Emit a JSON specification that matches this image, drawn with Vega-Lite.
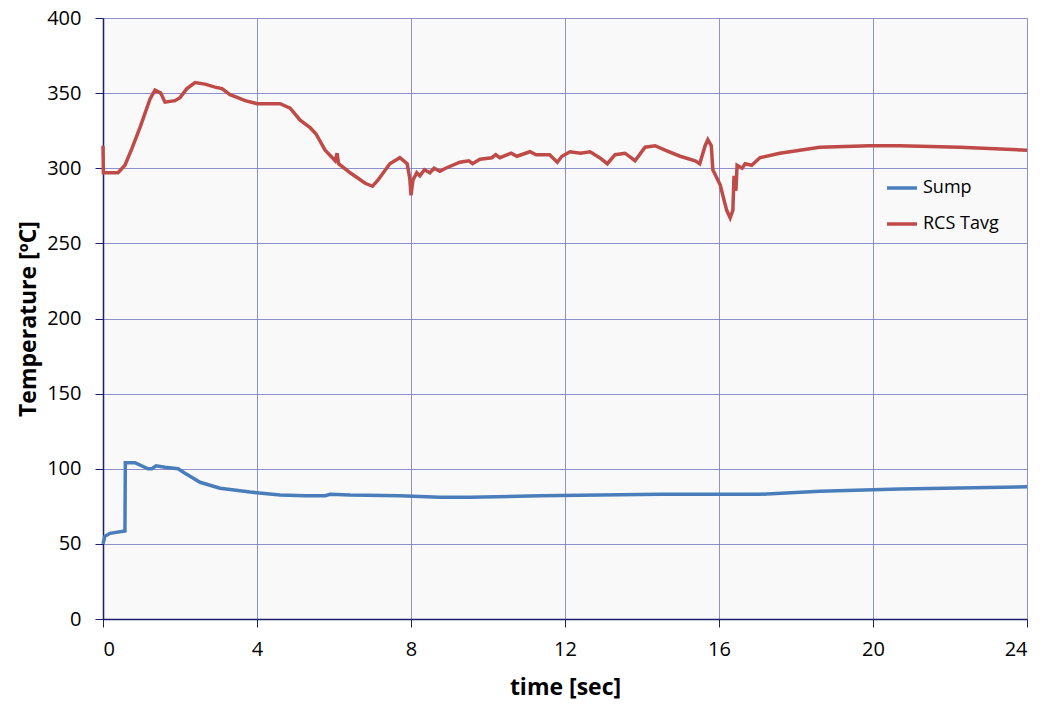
{
  "$schema": "https://vega.github.io/schema/vega-lite/v6.json",
  "width": 924,
  "height": 601,
  "autosize": {"type": "none"},
  "padding": {"left": 103, "top": 18, "right": 18, "bottom": 89},
  "background": "white",
  "config": {
    "view": {"fill": "#f9f9f9", "stroke": null},
    "axis": {
      "labelFont": "Open Sans",
      "labelFontSize": 20,
      "labelColor": "#000000",
      "titleFont": "Open Sans",
      "titleFontSize": 23,
      "titleFontWeight": "bold",
      "titleColor": "#000000",
      "gridColor": "#7c7cc4",
      "gridOpacity": 0.85,
      "gridWidth": 1,
      "tickColor": "#1f1f6f",
      "tickSize": 8,
      "domainColor": "#1f1f6f",
      "domainWidth": 1.5
    }
  },
  "datasets": {
    "curves": [
      {"t": 0.0, "T": 315, "s": "RCS Tavg"},
      {"t": 0.01, "T": 297, "s": "RCS Tavg"},
      {"t": 0.39, "T": 297, "s": "RCS Tavg"},
      {"t": 0.57, "T": 302, "s": "RCS Tavg"},
      {"t": 0.75, "T": 313, "s": "RCS Tavg"},
      {"t": 0.96, "T": 327, "s": "RCS Tavg"},
      {"t": 1.22, "T": 346, "s": "RCS Tavg"},
      {"t": 1.35, "T": 352, "s": "RCS Tavg"},
      {"t": 1.5, "T": 350, "s": "RCS Tavg"},
      {"t": 1.61, "T": 344, "s": "RCS Tavg"},
      {"t": 1.87, "T": 345, "s": "RCS Tavg"},
      {"t": 2.0, "T": 347, "s": "RCS Tavg"},
      {"t": 2.18, "T": 353, "s": "RCS Tavg"},
      {"t": 2.39, "T": 357, "s": "RCS Tavg"},
      {"t": 2.65, "T": 356, "s": "RCS Tavg"},
      {"t": 2.91, "T": 354, "s": "RCS Tavg"},
      {"t": 3.09, "T": 353, "s": "RCS Tavg"},
      {"t": 3.3, "T": 349, "s": "RCS Tavg"},
      {"t": 3.5, "T": 347, "s": "RCS Tavg"},
      {"t": 3.69, "T": 345, "s": "RCS Tavg"},
      {"t": 4.0, "T": 343, "s": "RCS Tavg"},
      {"t": 4.6, "T": 343, "s": "RCS Tavg"},
      {"t": 4.86, "T": 340, "s": "RCS Tavg"},
      {"t": 5.12, "T": 332, "s": "RCS Tavg"},
      {"t": 5.38, "T": 327, "s": "RCS Tavg"},
      {"t": 5.53, "T": 323, "s": "RCS Tavg"},
      {"t": 5.77, "T": 312, "s": "RCS Tavg"},
      {"t": 6.03, "T": 305, "s": "RCS Tavg"},
      {"t": 6.08, "T": 310, "s": "RCS Tavg"},
      {"t": 6.12, "T": 303, "s": "RCS Tavg"},
      {"t": 6.42, "T": 297, "s": "RCS Tavg"},
      {"t": 6.81, "T": 290, "s": "RCS Tavg"},
      {"t": 7.0, "T": 288, "s": "RCS Tavg"},
      {"t": 7.14, "T": 292, "s": "RCS Tavg"},
      {"t": 7.45, "T": 303, "s": "RCS Tavg"},
      {"t": 7.71, "T": 307, "s": "RCS Tavg"},
      {"t": 7.9, "T": 303, "s": "RCS Tavg"},
      {"t": 7.97, "T": 293, "s": "RCS Tavg"},
      {"t": 8.0, "T": 282, "s": "RCS Tavg"},
      {"t": 8.05, "T": 292, "s": "RCS Tavg"},
      {"t": 8.15, "T": 297, "s": "RCS Tavg"},
      {"t": 8.23, "T": 295, "s": "RCS Tavg"},
      {"t": 8.35, "T": 299, "s": "RCS Tavg"},
      {"t": 8.49, "T": 297, "s": "RCS Tavg"},
      {"t": 8.6, "T": 300, "s": "RCS Tavg"},
      {"t": 8.75, "T": 298, "s": "RCS Tavg"},
      {"t": 8.9, "T": 300, "s": "RCS Tavg"},
      {"t": 9.27, "T": 304, "s": "RCS Tavg"},
      {"t": 9.5, "T": 305, "s": "RCS Tavg"},
      {"t": 9.6, "T": 303, "s": "RCS Tavg"},
      {"t": 9.79, "T": 306, "s": "RCS Tavg"},
      {"t": 10.1, "T": 307, "s": "RCS Tavg"},
      {"t": 10.2, "T": 309, "s": "RCS Tavg"},
      {"t": 10.31, "T": 307, "s": "RCS Tavg"},
      {"t": 10.6, "T": 310, "s": "RCS Tavg"},
      {"t": 10.75, "T": 308, "s": "RCS Tavg"},
      {"t": 11.09, "T": 311, "s": "RCS Tavg"},
      {"t": 11.25, "T": 309, "s": "RCS Tavg"},
      {"t": 11.6, "T": 309, "s": "RCS Tavg"},
      {"t": 11.8, "T": 304, "s": "RCS Tavg"},
      {"t": 11.92, "T": 308, "s": "RCS Tavg"},
      {"t": 12.13, "T": 311, "s": "RCS Tavg"},
      {"t": 12.4, "T": 310, "s": "RCS Tavg"},
      {"t": 12.65, "T": 311, "s": "RCS Tavg"},
      {"t": 12.9, "T": 307, "s": "RCS Tavg"},
      {"t": 13.1, "T": 303, "s": "RCS Tavg"},
      {"t": 13.3, "T": 309, "s": "RCS Tavg"},
      {"t": 13.56, "T": 310, "s": "RCS Tavg"},
      {"t": 13.82, "T": 305, "s": "RCS Tavg"},
      {"t": 14.08, "T": 314, "s": "RCS Tavg"},
      {"t": 14.34, "T": 315, "s": "RCS Tavg"},
      {"t": 14.6, "T": 312, "s": "RCS Tavg"},
      {"t": 14.99, "T": 308, "s": "RCS Tavg"},
      {"t": 15.38, "T": 305, "s": "RCS Tavg"},
      {"t": 15.5, "T": 303, "s": "RCS Tavg"},
      {"t": 15.64, "T": 315, "s": "RCS Tavg"},
      {"t": 15.71, "T": 319, "s": "RCS Tavg"},
      {"t": 15.8, "T": 315, "s": "RCS Tavg"},
      {"t": 15.84, "T": 299, "s": "RCS Tavg"},
      {"t": 16.03, "T": 289, "s": "RCS Tavg"},
      {"t": 16.2, "T": 272, "s": "RCS Tavg"},
      {"t": 16.29, "T": 267, "s": "RCS Tavg"},
      {"t": 16.36, "T": 272, "s": "RCS Tavg"},
      {"t": 16.39, "T": 295, "s": "RCS Tavg"},
      {"t": 16.44, "T": 285, "s": "RCS Tavg"},
      {"t": 16.47, "T": 302, "s": "RCS Tavg"},
      {"t": 16.6, "T": 300, "s": "RCS Tavg"},
      {"t": 16.68, "T": 303, "s": "RCS Tavg"},
      {"t": 16.85, "T": 302, "s": "RCS Tavg"},
      {"t": 17.06, "T": 307, "s": "RCS Tavg"},
      {"t": 17.58, "T": 310, "s": "RCS Tavg"},
      {"t": 18.62, "T": 314, "s": "RCS Tavg"},
      {"t": 19.92, "T": 315, "s": "RCS Tavg"},
      {"t": 20.7, "T": 315, "s": "RCS Tavg"},
      {"t": 22.26, "T": 314, "s": "RCS Tavg"},
      {"t": 24.0, "T": 312, "s": "RCS Tavg"},
      {"t": 0.0, "T": 50, "s": "Sump"},
      {"t": 0.05, "T": 55, "s": "Sump"},
      {"t": 0.18, "T": 57, "s": "Sump"},
      {"t": 0.57, "T": 58.6, "s": "Sump"},
      {"t": 0.58, "T": 104, "s": "Sump"},
      {"t": 0.83, "T": 104, "s": "Sump"},
      {"t": 1.17, "T": 100, "s": "Sump"},
      {"t": 1.27, "T": 100, "s": "Sump"},
      {"t": 1.38, "T": 102, "s": "Sump"},
      {"t": 1.61, "T": 101, "s": "Sump"},
      {"t": 1.95, "T": 100, "s": "Sump"},
      {"t": 2.13, "T": 97, "s": "Sump"},
      {"t": 2.52, "T": 91, "s": "Sump"},
      {"t": 3.04, "T": 87, "s": "Sump"},
      {"t": 3.82, "T": 84.5, "s": "Sump"},
      {"t": 4.6, "T": 82.5, "s": "Sump"},
      {"t": 5.25, "T": 82, "s": "Sump"},
      {"t": 5.77, "T": 82, "s": "Sump"},
      {"t": 5.9, "T": 83, "s": "Sump"},
      {"t": 6.42, "T": 82.5, "s": "Sump"},
      {"t": 7.71, "T": 82, "s": "Sump"},
      {"t": 8.75, "T": 81, "s": "Sump"},
      {"t": 9.53, "T": 81, "s": "Sump"},
      {"t": 11.35, "T": 82, "s": "Sump"},
      {"t": 14.47, "T": 83, "s": "Sump"},
      {"t": 17.06, "T": 83, "s": "Sump"},
      {"t": 18.62, "T": 85, "s": "Sump"},
      {"t": 20.7, "T": 86.5, "s": "Sump"},
      {"t": 24.0, "T": 88, "s": "Sump"}
    ]
  },
  "data": {"name": "curves"},
  "mark": {"type": "line", "strokeWidth": 3.5, "interpolate": "linear"},
  "encoding": {
    "x": {
      "field": "t",
      "type": "quantitative",
      "scale": {"domain": [0, 24], "nice": false},
      "axis": {
        "values": [0, 4, 8, 12, 16, 20, 24],
        "title": "time [sec]",
        "labelPadding": 12,
        "titlePadding": 17,
        "domain": true
      }
    },
    "y": {
      "field": "T",
      "type": "quantitative",
      "scale": {"domain": [0, 400], "nice": false},
      "axis": {
        "values": [0, 50, 100, 150, 200, 250, 300, 350, 400],
        "title": "Temperature [ºC]",
        "labelPadding": 14,
        "titlePadding": 6
      }
    },
    "color": {
      "field": "s",
      "type": "nominal",
      "scale": {"domain": ["Sump", "RCS Tavg"], "range": ["#4a7ebb", "#be4b48"]},
      "legend": {
        "title": null,
        "orient": "none",
        "legendX": 782,
        "legendY": 153,
        "symbolType": "stroke",
        "symbolStrokeWidth": 3.5,
        "symbolSize": 900,
        "labelFont": "Open Sans",
        "labelFontSize": 18,
        "labelColor": "#000000",
        "rowPadding": 10,
        "labelOffset": 4
      }
    }
  }
}
